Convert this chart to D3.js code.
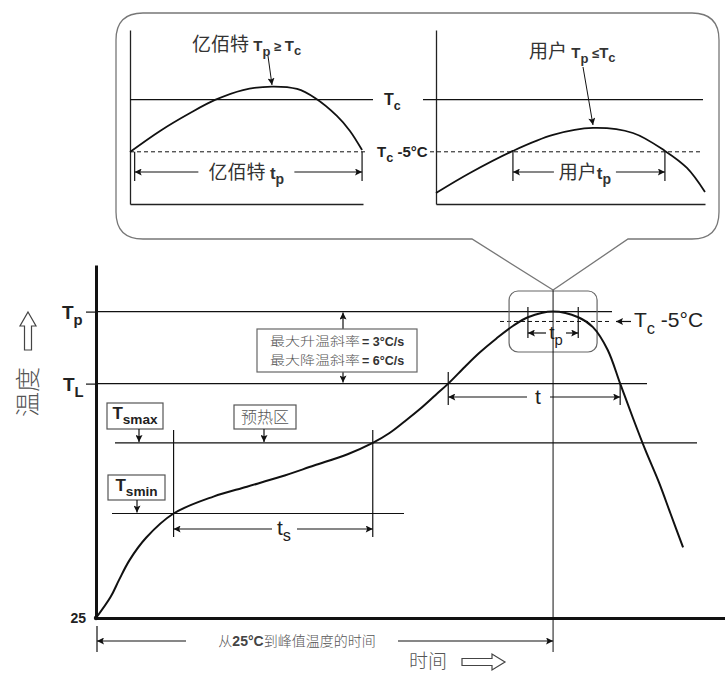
<!DOCTYPE html>
<html>
<head>
<meta charset="utf-8">
<script src="https://cdn.jsdelivr.net/npm/d3@7"></script>
<style>
  body { margin: 0; background: #fff; }
  svg { display: block; }
</style>
</head>
<body>
<div id="chart"></div>
<script>
// DATA
// main reflow profile: time (s, schematic) and temperature (schematic)
const profileTime = [0, 7, 11, 16, 24, 37, 56, 72, 88, 104, 120, 132, 140, 147, 154.5, 162, 168, 176, 183, 191, 199, 206, 218, 230, 237, 244, 250, 256, 262, 268.5, 274, 280];
const profileTemp = [25, 40, 52, 66, 82, 99, 111, 118, 125, 133, 141, 149, 156, 164, 173, 183, 191, 203, 213, 223, 232, 238, 242, 238, 231, 215, 191, 167, 144, 121, 99, 75];

// temperature levels: Tp, Tc-5, TL, Tsmax, Tsmin
const levelKeys = ['Tp', 'Tc5', 'TL', 'Tsmax', 'Tsmin'];
const levelTemps = [242, 235, 191, 149, 99];

// time marks: ts start/end, t start/end, tp start/end, peak
const markKeys = ['tsStart', 'tsEnd', 'tStart', 'tEnd', 'tpStart', 'tpEnd', 'peak'];
const markTimes = [37, 132, 168, 250, 206, 230, 218];

// callout insets (0-100 schematic units)
const supplierU = [0, 12.9, 25.8, 36.5, 48.5, 60.9, 71.7, 79.4, 88.8, 94.4, 99.6];
const supplierV = [29.9, 42, 52.3, 59.8, 65.5, 67.5, 66.1, 60.9, 50.6, 42, 31];
const userU = [0, 12.6, 28.6, 43.5, 58.4, 73.2, 85.1, 93.3, 100];
const userV = [6.3, 17.8, 30.5, 39.7, 43.7, 40.8, 30.5, 20.7, 6.9];
const insetLevels = [60, 30]; // Tc, Tc-5
const supplierTp = [2, 99.6];
const userTp = [28.6, 85.1];

const lv = k => levelTemps[levelKeys.indexOf(k)];
const mk = k => markTimes[markKeys.indexOf(k)];

// SETTINGS
const width = 725, height = 675;
const LAT = '"Liberation Sans", Arial, sans-serif';
const CJK = '"Noto Sans CJK SC", sans-serif';
const INK = '#111';
const GRAY = '#555';

const x = d3.scaleLinear().domain([0, 300]).range([96, 725]);
const y = d3.scaleLinear().domain([25, 275]).range([618, 265]);
const smooth = d3.curveCatmullRom.alpha(0.5);

const svg = d3.select('#chart').append('svg')
    .attr('width', width)
    .attr('height', height);

const defs = svg.append('defs');
defs.append('marker')
    .attr('id', 'arrow')
    .attr('viewBox', '0 0 10 10')
    .attr('refX', 10).attr('refY', 5)
    .attr('markerWidth', 9).attr('markerHeight', 7)
    .attr('markerUnits', 'userSpaceOnUse')
    .attr('orient', 'auto')
    .append('path')
        .attr('d', 'M0,0L10,5L0,10L2,5Z')
        .attr('fill', INK);

const line = (g, x1, y1, x2, y2, opts = {}) => g.append('line')
    .attr('x1', x1).attr('y1', y1).attr('x2', x2).attr('y2', y2)
    .attr('stroke', opts.color || INK)
    .attr('stroke-width', opts.w || 1.2)
    .attr('stroke-dasharray', opts.dash || null)
    .attr('marker-end', opts.arrow ? 'url(#arrow)' : null);

// text with subscript, optional trailing text
function subLabel(g, px, py, main, sub, size, opts = {}) {
    const t = g.append('text')
        .attr('x', px).attr('y', py)
        .attr('font-family', opts.family || LAT)
        .attr('font-weight', opts.weight || 'bold')
        .attr('font-size', size)
        .attr('fill', opts.color || '#222')
        .attr('text-anchor', opts.anchor || 'start');
    t.append('tspan').text(main);
    t.append('tspan')
        .attr('dy', size * (opts.drop || 0.32))
        .attr('font-size', size * (opts.subScale || 0.78))
        .text(sub);
    if (opts.tail) {
        t.append('tspan')
            .attr('dy', -size * (opts.drop || 0.32))
            .attr('font-weight', opts.tailWeight || 'normal')
            .text(opts.tail);
    }
    return t;
}

const main = svg.append('g');

// axes
const yAxis = main.append('g')
    .attr('transform', `translate(${x(0)},0)`)
    .call(d3.axisLeft(y).tickValues([lv('Tp'), lv('TL')]).tickSize(10).tickSizeOuter(0).tickFormat(''));
const xAxis = main.append('g')
    .attr('transform', `translate(0,${y(25)})`)
    .call(d3.axisBottom(x).tickValues([]).tickSizeOuter(0));
[yAxis, xAxis].forEach(a => {
    a.select('.domain').attr('stroke', INK).attr('stroke-width', 3);
    a.selectAll('.tick line').attr('stroke', INK).attr('stroke-width', 1.2);
});

// level lines
line(main, x(0), y(lv('Tp')), 612, y(lv('Tp')));
line(main, x(0), y(lv('TL')), 647, y(lv('TL')));
line(main, 115, y(lv('Tsmax')), 697, y(lv('Tsmax')));
line(main, 112, y(lv('Tsmin')), 404, y(lv('Tsmin')));
line(main, 500, y(lv('Tc5')), 612, y(lv('Tc5')), { dash: '4,3', w: 1 });

// axis labels
subLabel(main, 62, y(lv('Tp')) + 7, 'T', 'p', 19);
subLabel(main, 63, y(lv('TL')) + 7, 'T', 'L', 19);
main.append('text')
    .attr('x', 86).attr('y', y(25) + 5)
    .attr('text-anchor', 'end')
    .attr('font-family', LAT).attr('font-weight', 'bold').attr('font-size', 14)
    .attr('fill', '#222')
    .text('25');
main.append('circle').attr('cx', x(0)).attr('cy', y(25)).attr('r', 2.2).attr('fill', INK);

// ts marks
const tsA = x(mk('tsStart')), tsB = x(mk('tsEnd'));
line(main, tsA, 430, tsA, 537);
line(main, tsB, 430, tsB, 537);
line(main, 272, 529, tsA, 529, { arrow: true });
line(main, 297, 529, tsB, 529, { arrow: true });
subLabel(main, 284, 535, 't', 's', 21, { anchor: 'middle', weight: 'normal', drop: 0.3 });

// t marks
const tA = x(mk('tStart')), tB = x(mk('tEnd'));
line(main, tA, 372, tA, 405);
line(main, tB, 383, tB, 405);
line(main, 527, 397, tA, 397, { arrow: true });
line(main, 550, 397, tB, 397, { arrow: true });
main.append('text')
    .attr('x', 538).attr('y', 404)
    .attr('text-anchor', 'middle')
    .attr('font-family', LAT).attr('font-size', 21).attr('fill', '#222')
    .text('t');

// tp marks
const tpA = x(mk('tpStart')), tpB = x(mk('tpEnd')), pk = x(mk('peak'));
line(main, tpA, 307, tpA, 338);
line(main, tpB, 307, tpB, 338);
line(main, 546, 333, tpA, 333, { arrow: true });
line(main, 566, 333, tpB, 333, { arrow: true });
subLabel(main, 556, 339, 't', 'p', 19, { anchor: 'middle', weight: 'normal', drop: 0.3 });

// zoom box at the peak
main.append('rect')
    .attr('x', pk - 44).attr('y', 291)
    .attr('width', 88).attr('height', 61)
    .attr('rx', 9)
    .attr('fill', 'none').attr('stroke', '#666').attr('stroke-width', 1.2);

// peak vertical
line(main, pk, 290, pk, 652, { w: 1 });

// Tc -5°C pointer
line(main, 631, y(lv('Tc5')), 616, y(lv('Tc5')), { arrow: true });
subLabel(main, 634, y(lv('Tc5')) + 6, 'T', 'c', 21, { weight: 'normal', tail: ' -5°C', drop: 0.3 });

// rate box
line(main, 343, 329, 343, y(lv('Tp')) + 1, { arrow: true });
line(main, 343, 372, 343, y(lv('TL')) - 1, { arrow: true });
main.append('rect')
    .attr('x', 257).attr('y', 329).attr('width', 160).attr('height', 43)
    .attr('fill', '#fff').attr('stroke', '#666').attr('stroke-width', 1.2);
const rates = [['最大升温斜率', '= 3°C/s'], ['最大降温斜率', '= 6°C/s']];
rates.forEach((r, i) => {
    main.append('text')
        .attr('x', 270).attr('y', 346 + i * 18.5)
        .attr('font-size', 12.5).attr('fill', GRAY)
        .attr('font-family', CJK).attr('font-weight', 300)
        .attr('textLength', 90).attr('lengthAdjust', 'spacingAndGlyphs')
        .text(r[0]);
    main.append('text')
        .attr('x', 362).attr('y', 346 + i * 18.5)
        .attr('font-family', LAT).attr('font-weight', 'bold')
        .attr('font-size', 12.5).attr('fill', '#333').text(r[1]);
});

// Tsmax / Tsmin / preheat boxes
const boxes = [
    { x: 107, y: 403, w: 56, h: 26, ax: 139, to: lv('Tsmax'), sub: 'smax' },
    { x: 108, y: 475, w: 57, h: 25, ax: 137, to: lv('Tsmin'), sub: 'smin' },
    { x: 234, y: 405, w: 62, h: 24, ax: 264, to: lv('Tsmax'), cjk: '预热区' }
];
boxes.forEach(b => {
    main.append('rect')
        .attr('x', b.x).attr('y', b.y).attr('width', b.w).attr('height', b.h)
        .attr('fill', '#fff').attr('stroke', '#555').attr('stroke-width', 1.2);
    line(main, b.ax, b.y + b.h, b.ax, y(b.to) - 1, { arrow: true });
    if (b.cjk) {
        main.append('text')
            .attr('x', b.x + b.w / 2).attr('y', b.y + 18)
            .attr('text-anchor', 'middle')
            .attr('font-family', CJK).attr('font-weight', 300).attr('font-size', 16)
            .attr('fill', GRAY).text(b.cjk);
    } else {
        subLabel(main, b.x + b.w / 2, b.y + 16, 'T', b.sub, 17, { anchor: 'middle', subScale: 0.8, drop: 0.28 });
    }
});

// profile curve
const profile = d3.zip(profileTime, profileTemp);
main.append('path')
    .datum(profile)
    .attr('fill', 'none')
    .attr('stroke', INK)
    .attr('stroke-width', 2)
    .attr('d', d3.line().x(d => x(d[0])).y(d => y(d[1])).curve(smooth));

// bottom bracket
line(main, x(0) + 1, 626, x(0) + 1, 652);
line(main, 186, 641, x(0) + 1, 641, { arrow: true });
line(main, 398, 641, pk, 641, { arrow: true });
const bt = main.append('text')
    .attr('x', 297).attr('y', 646)
    .attr('text-anchor', 'middle')
    .attr('font-size', 14).attr('fill', GRAY);
bt.append('tspan').attr('font-family', CJK).attr('font-weight', 300).text('从');
bt.append('tspan').attr('font-family', LAT).attr('font-weight', 'bold').attr('fill', '#444').text('25°C');
bt.append('tspan').attr('font-family', CJK).attr('font-weight', 300).text('到峰值温度的时间');

// axis titles with hollow arrows
main.append('text')
    .attr('transform', 'translate(37,392) rotate(-90)')
    .attr('text-anchor', 'middle')
    .attr('font-family', CJK).attr('font-weight', 300).attr('font-size', 25)
    .attr('fill', GRAY).text('温度');
main.append('path')
    .attr('d', 'M28,312L36,326L31.5,326L31.5,350L24.5,350L24.5,326L20,326Z')
    .attr('fill', 'none').attr('stroke', '#444').attr('stroke-width', 1.2);
main.append('text')
    .attr('x', 428).attr('y', 668)
    .attr('text-anchor', 'middle')
    .attr('font-family', CJK).attr('font-weight', 300).attr('font-size', 19)
    .attr('fill', GRAY).text('时间');
main.append('path')
    .attr('d', 'M505,662L492,654L492,658.5L462,658.5L462,665.5L492,665.5L492,670Z')
    .attr('fill', 'none').attr('stroke', '#444').attr('stroke-width', 1.2);

// CALLOUT
const co = svg.append('g');
const L = 116, R = 719, T = 13, B = 239, r = 27;
const tailL = 472, tailR = 628, apexY = 290;
co.append('path')
    .attr('d', `M${L + r},${T} L${R - r},${T} Q${R},${T} ${R},${T + r} L${R},${B - r} Q${R},${B} ${R - r},${B}
        L${tailR},${B} L${pk},${apexY} L${tailL},${B} L${L + r},${B} Q${L},${B} ${L},${B - r} L${L},${T + r} Q${L},${T} ${L + r},${T}Z`)
    .attr('fill', '#fff').attr('stroke', '#777').attr('stroke-width', 1.3);

const insetY = d3.scaleLinear().domain([0, 100]).range([204, 30]);
const panels = [
    { sx: d3.scaleLinear().domain([0, 100]).range([130, 363]), u: supplierU, v: supplierV, tp: supplierTp },
    { sx: d3.scaleLinear().domain([0, 100]).range([436, 705]), u: userU, v: userV, tp: userTp }
];
panels.forEach((p, i) => {
    const g = co.append('g');
    const ax = g.append('g').attr('transform', `translate(${p.sx(0)},0)`)
        .call(d3.axisLeft(insetY).tickValues([]).tickSizeOuter(0));
    const bx = g.append('g').attr('transform', `translate(0,${insetY(0)})`)
        .call(d3.axisBottom(p.sx).tickValues([]).tickSizeOuter(0));
    [ax, bx].forEach(a => a.select('.domain').attr('stroke', '#222').attr('stroke-width', 1.3));
    // Tc and Tc-5 lines
    line(g, i ? 423 : p.sx(0), insetY(insetLevels[0]), i ? 703 : 373, insetY(insetLevels[0]), { w: 1.2 });
    line(g, i ? 430 : p.sx(0), insetY(insetLevels[1]), i ? 700 : 368, insetY(insetLevels[1]), { w: 1, dash: '4,3' });
    g.append('path')
        .datum(d3.zip(p.u, p.v))
        .attr('fill', 'none').attr('stroke', INK).attr('stroke-width', 1.8)
        .attr('d', d3.line().x(d => p.sx(d[0])).y(d => insetY(d[1])).curve(smooth));
    // tp bracket
    const a = p.sx(p.tp[0]), b = p.sx(p.tp[1]), by = 172;
    line(g, a, insetY(insetLevels[1]), a, 181);
    line(g, b, insetY(insetLevels[1]), b, 181);
    const mid = (a + b) / 2 + (i ? -4 : -2);
    const half = i ? 31 : 48;
    line(g, mid - half, by, a, by, { arrow: true });
    line(g, mid + half, by, b, by, { arrow: true });
    const t = g.append('text')
        .attr('x', mid).attr('y', by + 7)
        .attr('text-anchor', 'middle').attr('fill', '#333');
    t.append('tspan').attr('font-family', CJK).attr('font-size', 19).text(i ? '用户' : '亿佰特 ');
    t.append('tspan').attr('font-family', LAT).attr('font-weight', 'bold').attr('font-size', 17).text('t');
    t.append('tspan').attr('font-family', LAT).attr('font-weight', 'bold').attr('font-size', 14).attr('dy', 5).text('p');
});

// inset titles and pointers
const titles = [
    { x: 192, y: 51, cjk: '亿佰特 ', rel: ' ≥ ', from: [268, 56], to: [272, 85] },
    { x: 529, y: 58, cjk: '用户 ', rel: ' ≤', from: [583, 67], to: [593, 125] }
];
titles.forEach(tt => {
    const t = co.append('text').attr('x', tt.x).attr('y', tt.y).attr('fill', '#333');
    t.append('tspan').attr('font-family', CJK).attr('font-size', 19).text(tt.cjk);
    t.append('tspan').attr('font-family', LAT).attr('font-weight', 'bold').attr('font-size', 15).text('T');
    t.append('tspan').attr('font-family', LAT).attr('font-weight', 'bold').attr('font-size', 13).attr('dy', 5).text('p');
    t.append('tspan').attr('font-family', LAT).attr('font-weight', 'bold').attr('font-size', 13).attr('dy', -5).text(tt.rel);
    t.append('tspan').attr('font-family', LAT).attr('font-weight', 'bold').attr('font-size', 15).text('T');
    t.append('tspan').attr('font-family', LAT).attr('font-weight', 'bold').attr('font-size', 13).attr('dy', 4).text('c');
    line(co, tt.from[0], tt.from[1], tt.to[0], tt.to[1], { arrow: true, w: 1 });
});
subLabel(co, 384, insetY(insetLevels[0]) + 5, 'T', 'c', 16, { drop: 0.35 });
subLabel(co, 377, insetY(insetLevels[1]) + 5, 'T', 'c', 15, { drop: 0.35, tail: ' -5°C', tailWeight: 'bold', subScale: 0.85 });
</script>
</body>
</html>
